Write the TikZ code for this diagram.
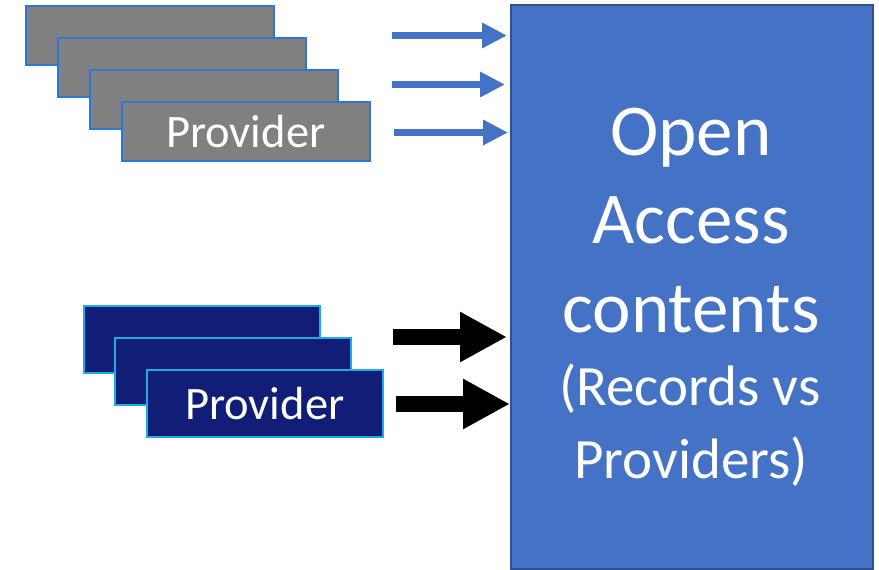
\documentclass[tikz,border=0pt]{standalone}
\usepackage{fontspec}
\setmainfont{Carlito}
\usetikzlibrary{arrows.meta}
\definecolor{provgray}{RGB}{128,128,128}
\definecolor{provgrayborder}{RGB}{46,117,214}
\definecolor{provnavy}{RGB}{16,30,120}
\definecolor{provnavyborder}{RGB}{30,170,230}
\definecolor{oafill}{RGB}{68,114,196}
\definecolor{oaborder}{RGB}{47,82,143}
\definecolor{bluearrow}{RGB}{68,114,196}
\tikzset{
  graybox/.style={draw=provgrayborder, fill=provgray, line width=1.5pt, inner sep=0pt,
    minimum width=248pt, minimum height=59pt, anchor=north west, text=white,
    font=\fontsize{46.5}{55}\selectfont},
  navybox/.style={draw=provnavyborder, fill=provnavy, line width=1.5pt, inner sep=0pt,
    minimum width=236pt, minimum height=67pt, anchor=north west, text=white,
    font=\fontsize{46.5}{55}\selectfont},
  oabox/.style={draw=oaborder, fill=oafill, line width=1.5pt, inner sep=0pt,
    minimum width=362pt, minimum height=564pt, anchor=north west},
  bigtext/.style={text=white, anchor=base, inner sep=0pt, font=\fontsize{73}{88}\selectfont},
  midtext/.style={text=white, anchor=base, inner sep=0pt, font=\fontsize{57}{68}\selectfont},
  thinarrow/.style={draw=bluearrow, line width=7pt, -{Triangle[length=25pt,width=24pt]}},
  thickarrow/.style={draw=black, line width=16pt, -{Triangle[length=47pt,width=47pt]}},
}
\begin{document}
\begin{tikzpicture}[x=1pt,y=-1pt]
\useasboundingbox (0,0) rectangle (879,570);
% big box
\node[oabox] (oa) at (510,4) {};
\node[bigtext] (t1) at (691,155) {Open};
\node[bigtext] (t2) at (691,243) {Access};
\node[bigtext] (t3) at (691,332) {contents};
\node[midtext] (t4) at (690,405) {(Records vs};
\node[midtext] (t5) at (691,478) {Providers)};
% gray providers
\node[graybox] (g1) at (25,5) {};
\node[graybox] (g2) at (57,37) {};
\node[graybox] (g3) at (89,69) {};
\node[graybox] (g4) at (121,101) {Provider};
% navy providers
\node[navybox] (n1) at (83,305) {};
\node[navybox] (n2) at (114,337) {};
\node[navybox] (n3) at (146,369) {Provider};
% arrows
\coordinate (ba1) at (392,35.5);
\coordinate (ba2) at (392,84.5);
\coordinate (ba3) at (394,132.5);
\coordinate (ka1) at (393,337);
\coordinate (ka2) at (396,404);
\draw[thinarrow, shorten >=3pt] (ba1) -- (ba1 -| oa.west);
\draw[thinarrow, shorten >=5pt] (ba2) -- (ba2 -| oa.west);
\draw[thinarrow, shorten >=2pt] (ba3) -- (ba3 -| oa.west);
\draw[thickarrow, shorten >=3pt] (ka1) -- (ka1 -| oa.west);
\draw[thickarrow] (ka2) -- (ka2 -| oa.west);
\end{tikzpicture}
\end{document}
